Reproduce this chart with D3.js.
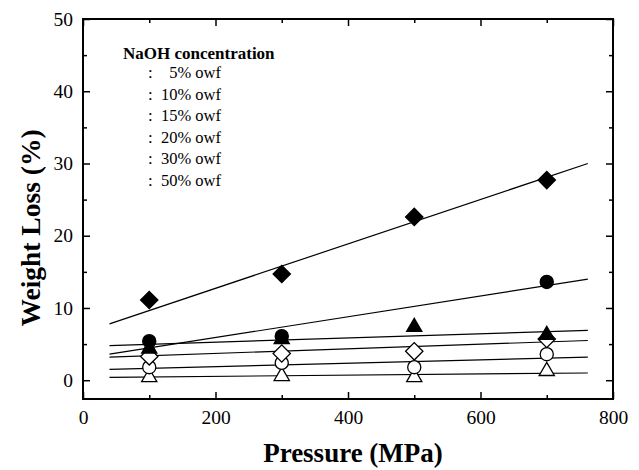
<!DOCTYPE html>
<html>
<head>
<meta charset="utf-8">
<script src="https://cdn.jsdelivr.net/npm/d3@7"></script>
</head>
<body style="margin:0">
<svg id="chart" width="639" height="470"></svg>
<script>
const pressures = [100, 300, 500, 700];
const concentrations = ["5% owf", "10% owf", "15% owf", "20% owf", "30% owf", "50% owf"];
const symbols = ["triangle", "circle", "diamond", "triangle", "circle", "diamond"];
const filled = [false, false, false, true, true, true];
const loss5 = [0.55, 0.7, 0.55, 1.4];
const loss10 = [1.8, 2.4, 1.8, 3.6];
const loss15 = [3.3, 3.7, 4.0, 5.7];
const loss20 = [4.5, 5.8, 7.5, 6.4];
const loss30 = [5.4, 6.1, null, 13.6];
const loss50 = [11.1, 14.7, 22.6, 27.7];
const allLoss = [loss5, loss10, loss15, loss20, loss30, loss50];
// fitted lines, value at start / end pressure
const fitRange = [40, 762];
const fitStart = [0.4, 1.5, 3.2, 4.8, 3.6, 7.8];
const fitEnd = [1.0, 3.2, 5.5, 6.9, 14.0, 30.0];
const xTicks = [0, 200, 400, 600, 800];
const yTicks = [0, 10, 20, 30, 40, 50];

const serif = '"Liberation Serif"';
const svg = d3.select("#chart");
const margin = { top: 19, right: 26, bottom: 71, left: 83 };
const width = +svg.attr("width");
const height = +svg.attr("height");
const innerWidth = width - margin.left - margin.right;
const innerHeight = height - margin.top - margin.bottom;

const xScale = d3.scaleLinear().domain([0, 800]).range([0, innerWidth]);
const yScale = d3.scaleLinear().domain([-2.6, 50]).range([innerHeight, 0]);

const g = svg.append("g").attr("transform", `translate(${margin.left},${margin.top})`);

// minor ticks
const minorX = d3.range(100, 800, 200);
const minorY = d3.range(5, 50, 10);
g.append("g").attr("transform", `translate(0,${innerHeight})`)
    .call(d3.axisBottom(xScale).tickValues(minorX).tickSize(-4).tickFormat(""));
g.append("g")
    .call(d3.axisTop(xScale).tickValues(minorX).tickSize(-4).tickFormat(""));
g.append("g")
    .call(d3.axisLeft(yScale).tickValues(minorY).tickSize(-4).tickFormat(""));
g.append("g").attr("transform", `translate(${innerWidth},0)`)
    .call(d3.axisRight(yScale).tickValues(minorY).tickSize(-4).tickFormat(""));

// major ticks
g.append("g").attr("class", "axis").attr("transform", `translate(0,${innerHeight})`)
    .call(d3.axisBottom(xScale).tickValues(xTicks).tickSize(-7).tickPadding(11));
g.append("g")
    .call(d3.axisTop(xScale).tickValues(xTicks).tickSize(-7).tickFormat(""));
g.append("g").attr("class", "axis")
    .call(d3.axisLeft(yScale).tickValues(yTicks).tickSize(-7).tickPadding(10));
g.append("g").attr("transform", `translate(${innerWidth},0)`)
    .call(d3.axisRight(yScale).tickValues(yTicks).tickSize(-7).tickFormat(""));

g.selectAll(".domain").remove();
g.selectAll(".tick line").attr("stroke", "#000").attr("stroke-width", 1.5);
g.selectAll(".axis text")
    .style("font-family", serif).style("font-size", "19.5px").attr("fill", "#000");

g.append("rect")
    .attr("width", innerWidth).attr("height", innerHeight)
    .attr("fill", "none").attr("stroke", "#000").attr("stroke-width", 2);

// fit lines
const lineGen = d3.line().x(d => xScale(d[0])).y(d => yScale(d[1]));
fitStart.forEach((s, i) => {
    g.append("path")
        .datum([[fitRange[0], s], [fitRange[1], fitEnd[i]]])
        .attr("d", lineGen)
        .attr("fill", "none").attr("stroke", "#000").attr("stroke-width", 1.2);
});

// markers
const symbolType = { triangle: d3.symbolTriangle, circle: d3.symbolCircle, diamond: d3.symbolSquare };
const symbolSize = { triangle: 100, circle: 135, diamond: 150 };
allLoss.forEach((vals, i) => {
    const sym = symbols[i];
    const shape = d3.symbol().type(symbolType[sym]).size(symbolSize[sym]);
    g.append("g").selectAll("path")
        .data(pressures.map((p, j) => ({ p, v: vals[j] })).filter(d => d.v != null))
        .join("path")
        .attr("d", shape)
        .attr("transform", d => `translate(${xScale(d.p)},${yScale(d.v) + (sym === "triangle" ? 1 : 0)})` + (sym === "diamond" ? " rotate(45)" : ""))
        .attr("fill", filled[i] ? "#000" : "#fff")
        .attr("stroke", "#000")
        .attr("stroke-width", 1.3);
});

// legend
const legend = svg.append("g");
legend.append("text")
    .attr("x", 123).attr("y", 59)
    .style("font-family", serif).style("font-size", "17px").style("font-weight", "bold")
    .text("NaOH concentration");
concentrations.forEach((c, i) => {
    const y = 78 + i * 21.6;
    legend.append("text").attr("x", 148).attr("y", y)
        .style("font-family", serif).style("font-size", "17px").text(":");
    legend.append("text").attr("x", 221).attr("y", y)
        .style("font-family", serif).style("font-size", "16.5px")
        .attr("text-anchor", "end").text(c);
});

// axis titles
svg.append("text")
    .attr("x", 353).attr("y", 462)
    .attr("text-anchor", "middle")
    .style("font-family", serif).style("font-size", "27px").style("font-weight", "bold")
    .text("Pressure (MPa)");
svg.append("text")
    .attr("transform", "translate(40,228) rotate(-90)")
    .attr("text-anchor", "middle")
    .style("font-family", serif).style("font-size", "27.5px").style("font-weight", "bold")
    .text("Weight Loss (%)");
</script>
</body>
</html>
